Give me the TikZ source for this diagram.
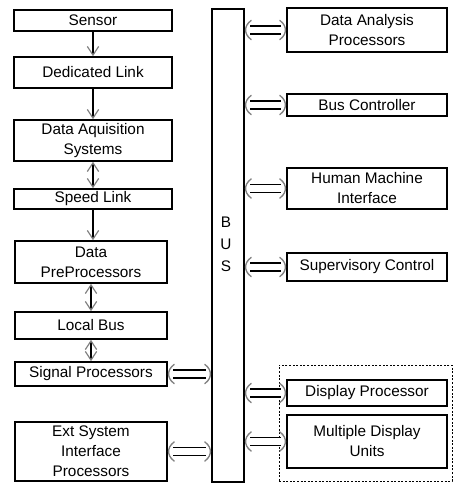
\documentclass[tikz,border=0pt]{standalone}
\usepackage{fontspec}
\setmainfont{Liberation Sans}
\usetikzlibrary{arrows.meta,calc}
\newcommand\bx[6]{\node[box, minimum width={(#4-#2)*0.75pt}, minimum height={(#5-#3)*0.75pt}] (#1) at ({(#2+#4)/2},{(#3+#5)/2}) {#6};}
\tikzset{
  box/.style={draw, line width=1.2pt, inner sep=0pt, align=center, font=\fontsize{11.5}{15}\selectfont},
  vhead/.tip={Straight Barb[length=6.5pt,width=8.5pt,color=black!50,line width=0.9pt]},
  sarrow/.style={line width=1.2pt, -vhead},
  darrow/.style={line width=1.2pt, vhead-vhead},
  dshaft/.style={double=white, double distance=4.8pt, line width=1.1pt, shorten <=4pt, shorten >=4pt},
  dheads/.style={draw=black!50, line width=1pt, line cap=round, to path={
    let \p1=(\tikztostart), \p2=(\tikztotarget) in
    (\x1+4.8pt,\y1+7.2pt) .. controls (\x1+1.5pt,\y1+4.8pt) and (\x1+0.6pt,\y1+2pt) .. (\x1+0.6pt,\y1)
      .. controls (\x1+0.6pt,\y1-2pt) and (\x1+1.5pt,\y1-4.8pt) .. (\x1+4.8pt,\y1-7.2pt)
    (\x2-4.8pt,\y2+7.2pt) .. controls (\x2-1.5pt,\y2+4.8pt) and (\x2-0.6pt,\y2+2pt) .. (\x2-0.6pt,\y2)
      .. controls (\x2-0.6pt,\y2-2pt) and (\x2-1.5pt,\y2-4.8pt) .. (\x2-4.8pt,\y2-7.2pt)}},
  grp/.style={draw, dash pattern=on 1.5pt off 1.2pt, line width=0.6pt}
}
\begin{document}
\begin{tikzpicture}[x=0.75pt,y=-0.75pt]
\useasboundingbox (0,0) rectangle (462,493);
\bx{sensor}{14}{10}{172}{31}{Sensor}
\bx{dlink}{14}{57}{172}{88}{Dedicated Link}
\bx{das}{14}{120}{172}{161}{Data Aquisition\\Systems}
\bx{speed}{14}{189}{172}{209}{Speed Link}
\bx{dpp}{15}{241}{167}{283}{Data\\PreProcessors}
\bx{lbus}{15}{312}{167}{339}{Local Bus}
\bx{sigp}{15}{362}{167}{386}{Signal Processors}
\bx{ext}{15}{422}{167}{481}{Ext System\\Interface\\Processors}
\bx{bus}{212}{9}{244}{482}{}
\node[font=\fontsize{11.5}{16.5}\selectfont, align=center, inner sep=0pt] (buslbl) at (226,244) {B\\U\\S};
\bx{dap}{287}{8}{447}{52}{Data Analysis\\Processors}
\bx{bc}{287}{94}{447}{116}{Bus Controller}
\bx{hmi}{287}{168}{447}{209}{Human Machine\\Interface}
\bx{sc}{287}{253}{447}{281}{Supervisory Control}
\bx{dp}{287}{380}{447}{406}{Display Processor}
\bx{mdu}{287}{415}{447}{468}{Multiple Display\\Units}
\node[grp, minimum width={173*0.75pt}, minimum height={116*0.75pt}, inner sep=0pt] (disp) at (365.5,423) {};
% left column
\draw[sarrow] (sensor.south) -- (dlink.north);
\draw[sarrow] (dlink.south) -- (das.north);
\draw[darrow] (das.south) -- (speed.north);
\draw[sarrow] (speed.south) -- (speed.south |- dpp.north);
\draw[darrow] (dpp.south) -- (lbus.north);
\draw[darrow] (lbus.south) -- (sigp.north);
% to bus
\foreach \q in {sigp,ext}{
  \coordinate (\q-b) at (\q.east -| bus.west);
  \draw[dshaft] (\q.east) -- (\q-b);
  \draw[dheads] (\q.east) to (\q-b);
}
\foreach \q in {dap,bc,hmi,sc,dp,mdu}{
  \coordinate (\q-b) at (\q.west -| bus.east);
  \draw[dshaft] (\q-b) -- (\q.west);
  \draw[dheads] (\q-b) to (\q.west);
}
\end{tikzpicture}
\end{document}
